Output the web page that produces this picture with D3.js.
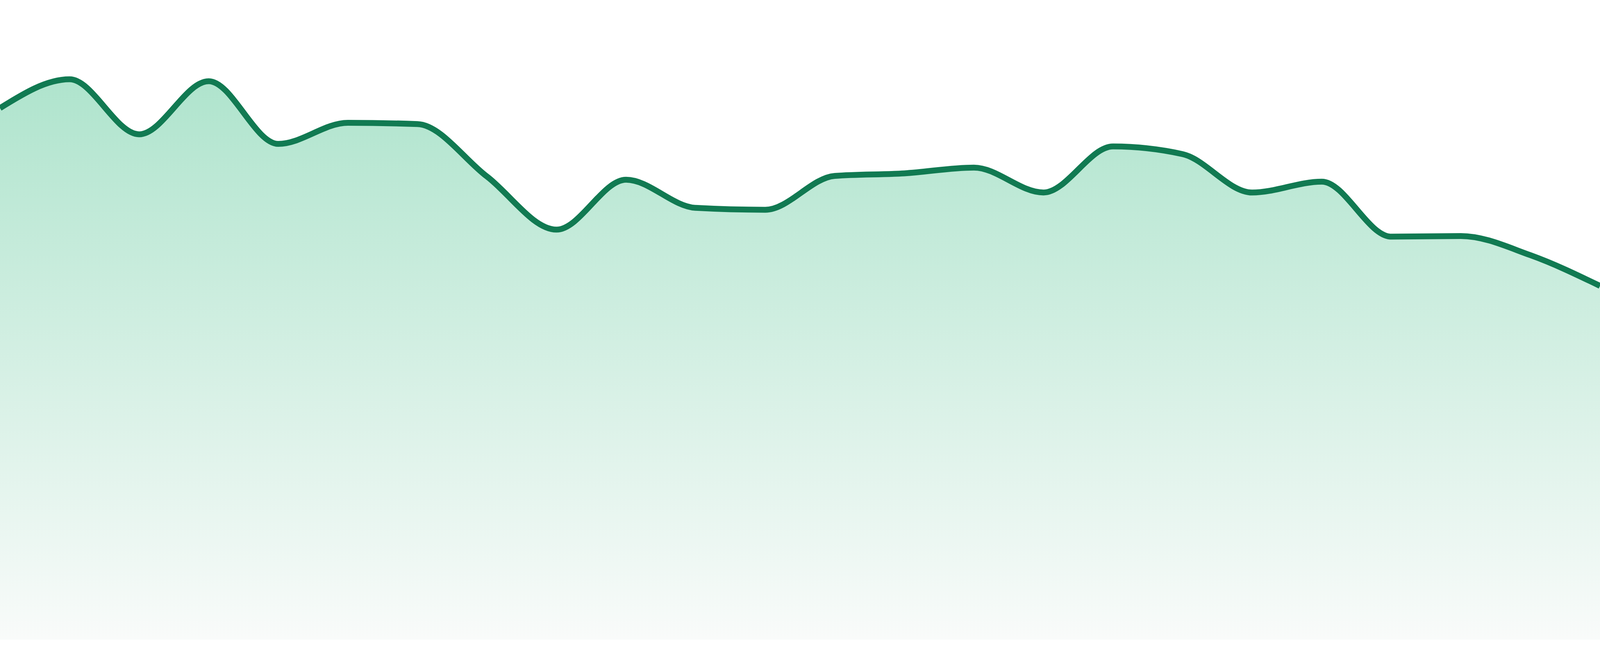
<!DOCTYPE html>
<html>
<head>
<meta charset="utf-8">
<script src="https://cdn.jsdelivr.net/npm/d3@7"></script>
<style>
  html, body { margin: 0; padding: 0; background: #fff; overflow: hidden; }
  svg { display: block; }
</style>
</head>
<body>
<svg class="chart"></svg>
<script>
// one value per step, left to right
const steps = d3.range(24);
const values = [83.1, 87.6, 79.0, 87.3, 77.5, 80.8, 80.6, 72.4, 64.1, 71.9, 67.5, 67.2,
                72.5, 72.9, 73.8, 69.9, 77.1, 75.9, 69.9, 71.6, 63.0, 63.1, 60.1, 55.3];
const yDomain = [0, 100];

function area() {
    // the window may be narrower than 4800, so fill whatever we get
    const W = window.innerWidth || 4800,
        H = window.innerHeight || 1680;
    const margin = {top: 0, right: 0, bottom: Math.round(H * 42 / 1680), left: 0},
        width = W - margin.left - margin.right,
        height = H - margin.top - margin.bottom;

    const svg = d3.select(".chart")
        .attr("width", width + margin.left + margin.right)
        .attr("height", height + margin.top + margin.bottom);

    const grad = svg.append("defs").append("linearGradient")
        .attr("id", "fillGrad")
        .attr("x1", 0).attr("y1", 0)
        .attr("x2", 0).attr("y2", 1);
    grad.append("stop").attr("offset", "0%").attr("stop-color", "#afe4cd");
    grad.append("stop").attr("offset", "100%").attr("stop-color", "#f9fbfa");

    const g = svg.append("g")
        .attr("transform", `translate(${margin.left}, ${margin.top})`);

    const x = d3.scaleLinear()
        .domain([0, steps.length - 1])
        .range([0, width]);

    const y = d3.scaleLinear()
        .domain(yDomain)
        .range([height, 0]);

    const areaGenerator = d3.area()
        .curve(d3.curveMonotoneX)
        .x((d, i) => x(steps[i]))
        .y0(height)
        .y1(d => y(d));

    const lineGenerator = d3.line()
        .curve(d3.curveMonotoneX)
        .x((d, i) => x(steps[i]))
        .y(d => y(d));

    g.append("path")
        .datum(values)
        .attr("fill", "url(#fillGrad)")
        .attr("d", areaGenerator);

    g.append("path")
        .datum(values)
        .attr("fill", "none")
        .attr("stroke", "#117a52")
        .attr("stroke-width", 15)
        .attr("stroke-linejoin", "round")
        .attr("d", lineGenerator);
}

area();
</script>
</body>
</html>
